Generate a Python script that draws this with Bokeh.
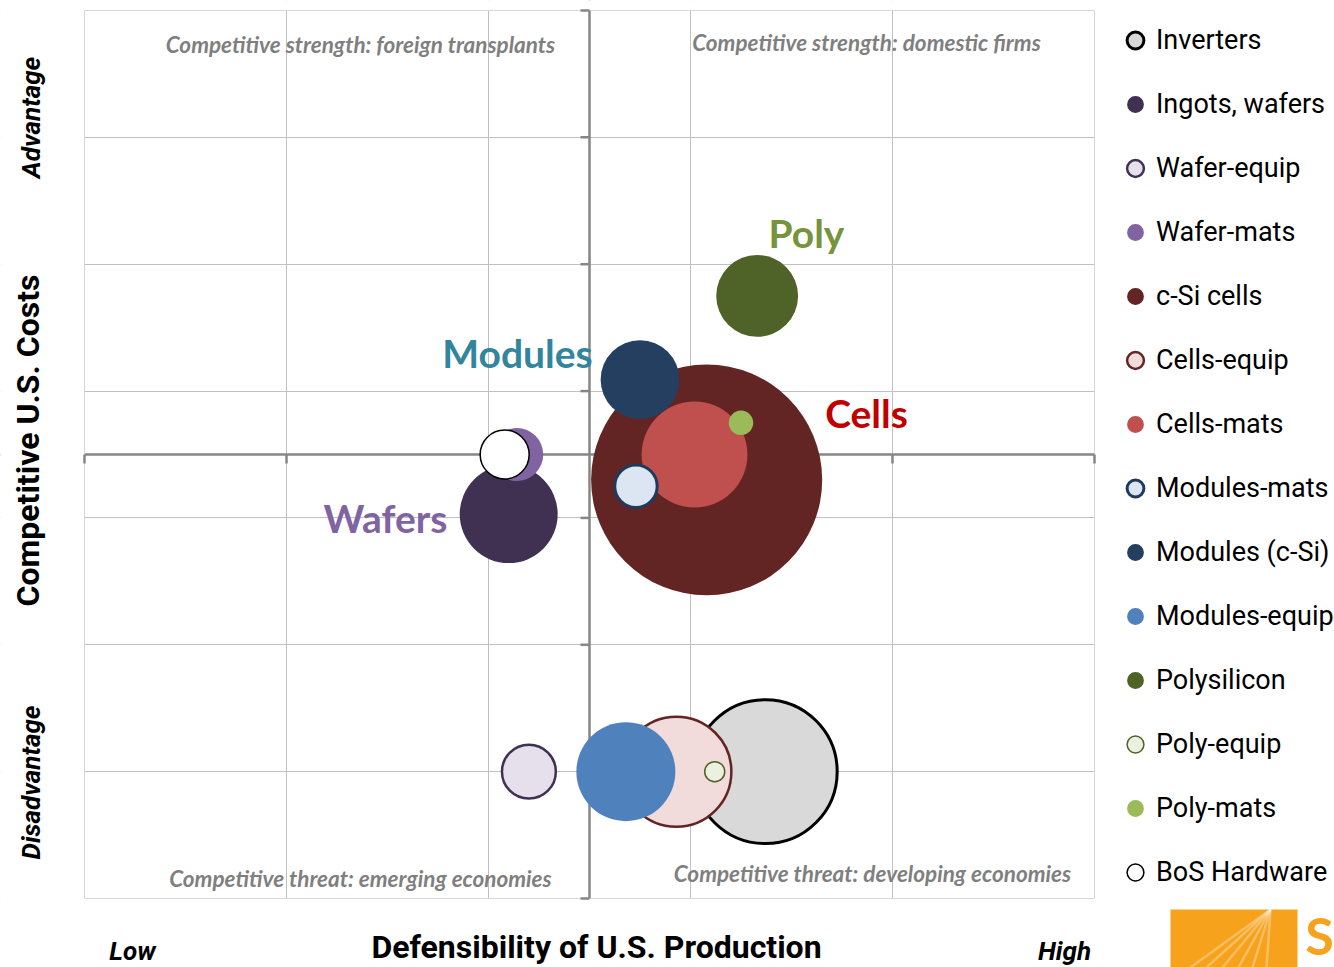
import numpy as np
from bokeh.plotting import figure
from bokeh.models import (ColumnDataSource, Label, Legend, LegendItem, FixedTicker, Range1d,
                          PolyAnnotation, BoxAnnotation, Span)
from bokeh.embed import file_html
from bokeh.resources import INLINE

# ---------------- data ----------------
segments = ["Inverters", "Ingots, wafers", "Wafer-equip", "Wafer-mats", "c-Si cells",
            "Cells-equip", "Cells-mats", "Modules-mats", "Modules (c-Si)", "Modules-equip",
            "Polysilicon", "Poly-equip", "Poly-mats", "BoS Hardware"]
defensibility = [0.87, -0.40, -0.30, -0.36, 0.58, 0.43, 0.52, 0.23, 0.25, 0.18,
                 0.83, 0.62, 0.75, -0.42]
us_costs = [-2.5, -0.47, -2.5, 0.0, -0.20, -2.5, 0.0, -0.25, 0.59, -2.5,
            1.25, -2.5, 0.25, 0.0]
market_value = [207, 96, 29, 28, 534, 121, 112, 18, 62, 98, 67, 4, 6, 24]

fill_colors = ["#D9D9D9", "#403152", "#E5E0EC", "#8064A2", "#632523", "#F2DCDB",
               "#C0504D", "#DCE6F2", "#243F60", "#4F81BD", "#4F6228", "#EBF1DE",
               "#9BBB59", "#FFFFFF"]
line_colors = ["#000000", "#403152", "#403152", "#8064A2", "#632523", "#632523",
               "#C0504D", "#1F3A5F", "#243F60", "#4F81BD", "#4F6228", "#4F6228",
               "#9BBB59", "#000000"]
line_widths = [3, 0, 2.5, 0, 0, 2.5, 0, 3, 0, 0, 0, 1.5, 0, 1.5]

x_ticks = [-2.5, -1.5, -0.5, 0.5, 1.5, 2.5]
y_ticks = [-3.5, -2.5, -1.5, -0.5, 0.5, 1.5, 2.5, 3.5]

group_labels = ["Poly", "Modules", "Cells", "Wafers"]
group_colors = ["#77933C", "#31859C", "#C00000", "#8064A2"]
quadrant_texts = ["Competitive strength: foreign transplants",
                  "Competitive strength: domestic firms",
                  "Competitive threat: emerging economies",
                  "Competitive threat: developing economies"]

# ---------------- geometry of the canvas ----------------
W, H = 1334, 967
PXU = 202.0          # pixels per x unit
PYU = 888.0 / 7.0    # pixels per y unit
XL = -2.5 - 84.0 / PXU
XR = XL + W / PXU
YT = 3.5 + 10.0 / PYU
YB = YT - H / PYU

def ax(px):
    return XL + px / PXU

def ay(py):
    return YT - py / PYU

p = figure(width=W, height=H, x_range=Range1d(XL, XR), y_range=Range1d(YB, YT),
           x_axis_location=None, y_axis_location=None, toolbar_location=None,
           output_backend="svg", min_border=0, min_border_left=0, min_border_right=0,
           min_border_top=0, min_border_bottom=0)
p.background_fill_color = "white"
p.border_fill_color = "white"
p.outline_line_color = None

GRID = "#C0C0C0"
AX = "#868686"
p.xgrid.ticker = FixedTicker(ticks=x_ticks)
p.ygrid.ticker = FixedTicker(ticks=y_ticks)
p.grid.grid_line_color = GRID
p.grid.grid_line_width = 1

# central axes (cross at 0, 0)
p.add_layout(Span(location=0, dimension="height", line_color=AX, line_width=2.5,
                  level="underlay"))
p.add_layout(Span(location=0, dimension="width", line_color=AX, line_width=2.5,
                  level="underlay"))

# keep guides inside the plotting area
for kw in [dict(right=-2.5), dict(left=2.5), dict(top=-3.5), dict(bottom=3.5)]:
    p.add_layout(BoxAnnotation(fill_color="white", fill_alpha=1, line_color=None,
                               level="underlay", **kw))
p.add_layout(BoxAnnotation(left=-2.5, right=2.5, bottom=-3.5, top=3.5, fill_alpha=0,
                           line_color=GRID, line_width=1, level="underlay"))

# tick marks on the central axes
TL = 9.0
p.segment(x0=[0] * len(y_ticks), y0=y_ticks, x1=[-TL / PXU] * len(y_ticks), y1=y_ticks,
          line_color=AX, line_width=2.5)
p.segment(x0=x_ticks, y0=[0] * len(x_ticks), x1=x_ticks, y1=[-TL / PYU] * len(x_ticks),
          line_color=AX, line_width=2.5)

# bubbles: diameter proportional to sqrt(value)
diam = 10 * np.sqrt(np.array(market_value, dtype=float))
src = ColumnDataSource(dict(x=defensibility, y=us_costs, size=diam, name=segments,
                            fill=fill_colors, line=line_colors, lw=line_widths))
r = p.scatter("x", "y", size="size", source=src, fill_color="fill", line_color="line",
              line_width="lw", marker="circle")

SANS = "Roboto"
items = [LegendItem(label=s, renderers=[r], index=i) for i, s in enumerate(segments)]
n = len(segments)
GH, SP = 42, 22
leg_h = n * GH + (n - 1) * SP
legend = Legend(items=items, location=(1114, H - 19 - leg_h),
                glyph_width=GH, glyph_height=GH, spacing=SP, padding=0, margin=0,
                label_standoff=-4, label_text_font=SANS, label_text_font_size="27px",
                label_text_color="black", border_line_color=None,
                background_fill_alpha=0)
p.add_layout(legend, "center")

# group labels
label_pos = [(806, 232), (517, 352), (866, 412), (385, 517)]
for t, c, (lx, ly) in zip(group_labels, group_colors, label_pos):
    p.add_layout(Label(x=ax(lx), y=ay(ly), text=t, text_color=c, text_font="Lato",
                       text_font_style="bold", text_font_size="39px",
                       text_align="center", text_baseline="middle"))

# quadrant texts
q_pos = [(360, 44), (866, 42), (360, 878), (872, 873)]
for t, (lx, ly) in zip(quadrant_texts, q_pos):
    p.add_layout(Label(x=ax(lx), y=ay(ly), text=t, text_color="#7F7F7F", text_font="Lato",
                       text_font_style="bold italic", text_font_size="22.5px",
                       text_align="center", text_baseline="middle"))

# axis titles
def lab(x, y, text, size, style, angle=0):
    p.add_layout(Label(x=ax(x), y=ay(y), text=text, angle=angle, angle_units="deg",
                       text_font=SANS, text_font_style=style, text_font_size=size,
                       text_color="black", text_align="center", text_baseline="middle"))

lab(27, 440, "Competitive U.S. Costs", "32px", "bold", 90)
lab(30, 117, "Advantage", "26px", "bold italic", 90)
lab(30, 782, "Disadvantage", "26px", "bold italic", 90)
lab(596, 946, "Defensibility of U.S. Production", "32px", "bold")
lab(132, 950, "Low", "26px", "bold italic")
lab(1064, 950, "High", "26px", "bold italic")

# logo (partial, bottom right)
p.add_layout(PolyAnnotation(xs=[ax(1170), ax(1297), ax(1297), ax(1170)],
                            ys=[ay(909), ay(909), ay(967), ay(967)],
                            fill_color="#F7A21D", fill_alpha=1, line_color=None))
for bx in [1190, 1206, 1222, 1238, 1252, 1266]:
    p.add_layout(PolyAnnotation(xs=[ax(1270), ax(bx)], ys=[ay(909), ay(967)],
                                fill_alpha=0, line_color="white", line_width=2.5))
p.add_layout(Label(x=ax(1319), y=ay(934), text="S", text_font="Lato",
                   text_font_style="bold", text_font_size="52px", text_color="#F7A21D",
                   text_align="center", text_baseline="middle"))

open("out.html", "w").write(file_html(p, INLINE))
